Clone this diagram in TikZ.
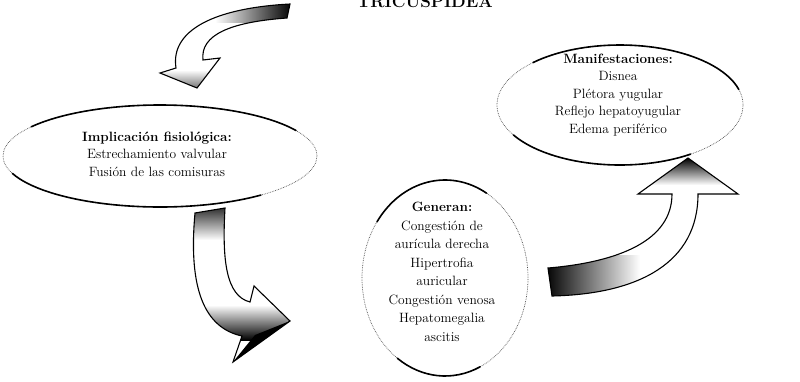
\documentclass[tikz,border=0pt]{standalone}
\usetikzlibrary{shapes.geometric}
\begin{document}
\begin{tikzpicture}[x=1pt,y=-1pt,
  bubble/.style={ellipse,draw=black!70,densely dotted,line width=0.7pt,inner sep=0pt},
  btext/.style={align=center,font=\fontsize{13.5}{17.5}\selectfont},
  heavy/.style={draw=black,line width=1.6pt,line cap=round},
  arrowline/.style={draw=black,line width=1.1pt,line join=miter},
  titlefont/.style={font=\fontsize{17}{17}\selectfont\bfseries}
]
\useasboundingbox (0,0) rectangle (800,381);

% title (cut by the top edge)
\node[titlefont,anchor=base] (title) at (425,7) {TRICUSPIDEA};

% ellipses
\node[bubble,minimum width=314pt,minimum height=102pt] (impl) at (160,156) {};
\node[btext] (impltext) at (157,154)
  {\textbf{Implicación fisiológica:}\\Estrechamiento valvular\\Fusión de las comisuras};
\node[bubble,minimum width=246pt,minimum height=120pt] (mani) at (620,105) {};
\node[btext] (manitext) at (618,95)
  {\textbf{Manifestaciones:}\\Disnea\\Plétora yugular\\Reflejo hepatoyugular\\Edema periférico};
\node[bubble,minimum width=166pt,minimum height=196pt] (gen) at (445,278) {};
\node[btext,font=\fontsize{13.5}{18.5}\selectfont] (gentext) at (442,272)
  {\textbf{Generan:}\\Congestión de\\aurícula derecha\\Hipertrofia\\auricular\\Congestión venosa\\Hepatomegalia\\ascitis};

% heavy parts of the ellipse outlines
\draw[heavy] (160,156) ++(215:157 and 51) arc[start angle=215,end angle=330,x radius=157,y radius=51];
\draw[heavy] (160,156) ++(50:157 and 51) arc[start angle=50,end angle=160,x radius=157,y radius=51];
\draw[heavy] (620,105) ++(225:123 and 60) arc[start angle=225,end angle=345,x radius=123,y radius=60];
\draw[heavy] (620,105) ++(55:123 and 60) arc[start angle=55,end angle=150,x radius=123,y radius=60];
\draw[heavy] (445,278) ++(215:83 and 98) arc[start angle=215,end angle=300,x radius=83,y radius=98];
\draw[heavy] (445,278) ++(65:83 and 98) arc[start angle=65,end angle=125,x radius=83,y radius=98];

% arrow 1 (top left)
\def\arrowA{(290,4) .. controls (215,8) and (170,30) .. (176,68)
   -- (160,73) -- (197,88) -- (220,58) -- (203,60)
   .. controls (200,35) and (230,22) .. (287,18) -- cycle}
\begin{scope}
\clip \arrowA;
\shade[left color=white,right color=black] (215,0) rectangle (292,22);
\shade[top color=white,bottom color=black!60] (160,70) rectangle (220,90);
\end{scope}
\draw[arrowline] \arrowA;

% arrow 2 (bottom left)
\def\arrowB{(195,213) .. controls (188,290) and (205,328) .. (242,336)
   -- (233,362) -- (290,321) -- (254,286) -- (250,302)
   .. controls (226,296) and (222,260) .. (225,208) -- cycle}
\begin{scope}
\clip \arrowB;
\shade[top color=black,bottom color=white] (185,200) rectangle (230,240);
\shade[top color=white,bottom color=black] (185,305) rectangle (295,340);
\fill[black] (255,335) -- (290,321) -- (233,362) -- cycle;
\end{scope}
\draw[arrowline] \arrowB;

% arrow 3 (bottom right)
\def\arrowC{(548,268) .. controls (620,262) and (672,240) .. (672,194)
   -- (638,194) -- (688,158) -- (738,194) -- (698,194)
   .. controls (698,262) and (640,294) .. (552,296) -- cycle}
\begin{scope}
\clip \arrowC;
\shade[left color=black,right color=white] (545,255) rectangle (640,300);
\shade[top color=black,bottom color=white] (640,158) rectangle (740,185);
\end{scope}
\draw[arrowline] \arrowC;
\end{tikzpicture}
\end{document}
